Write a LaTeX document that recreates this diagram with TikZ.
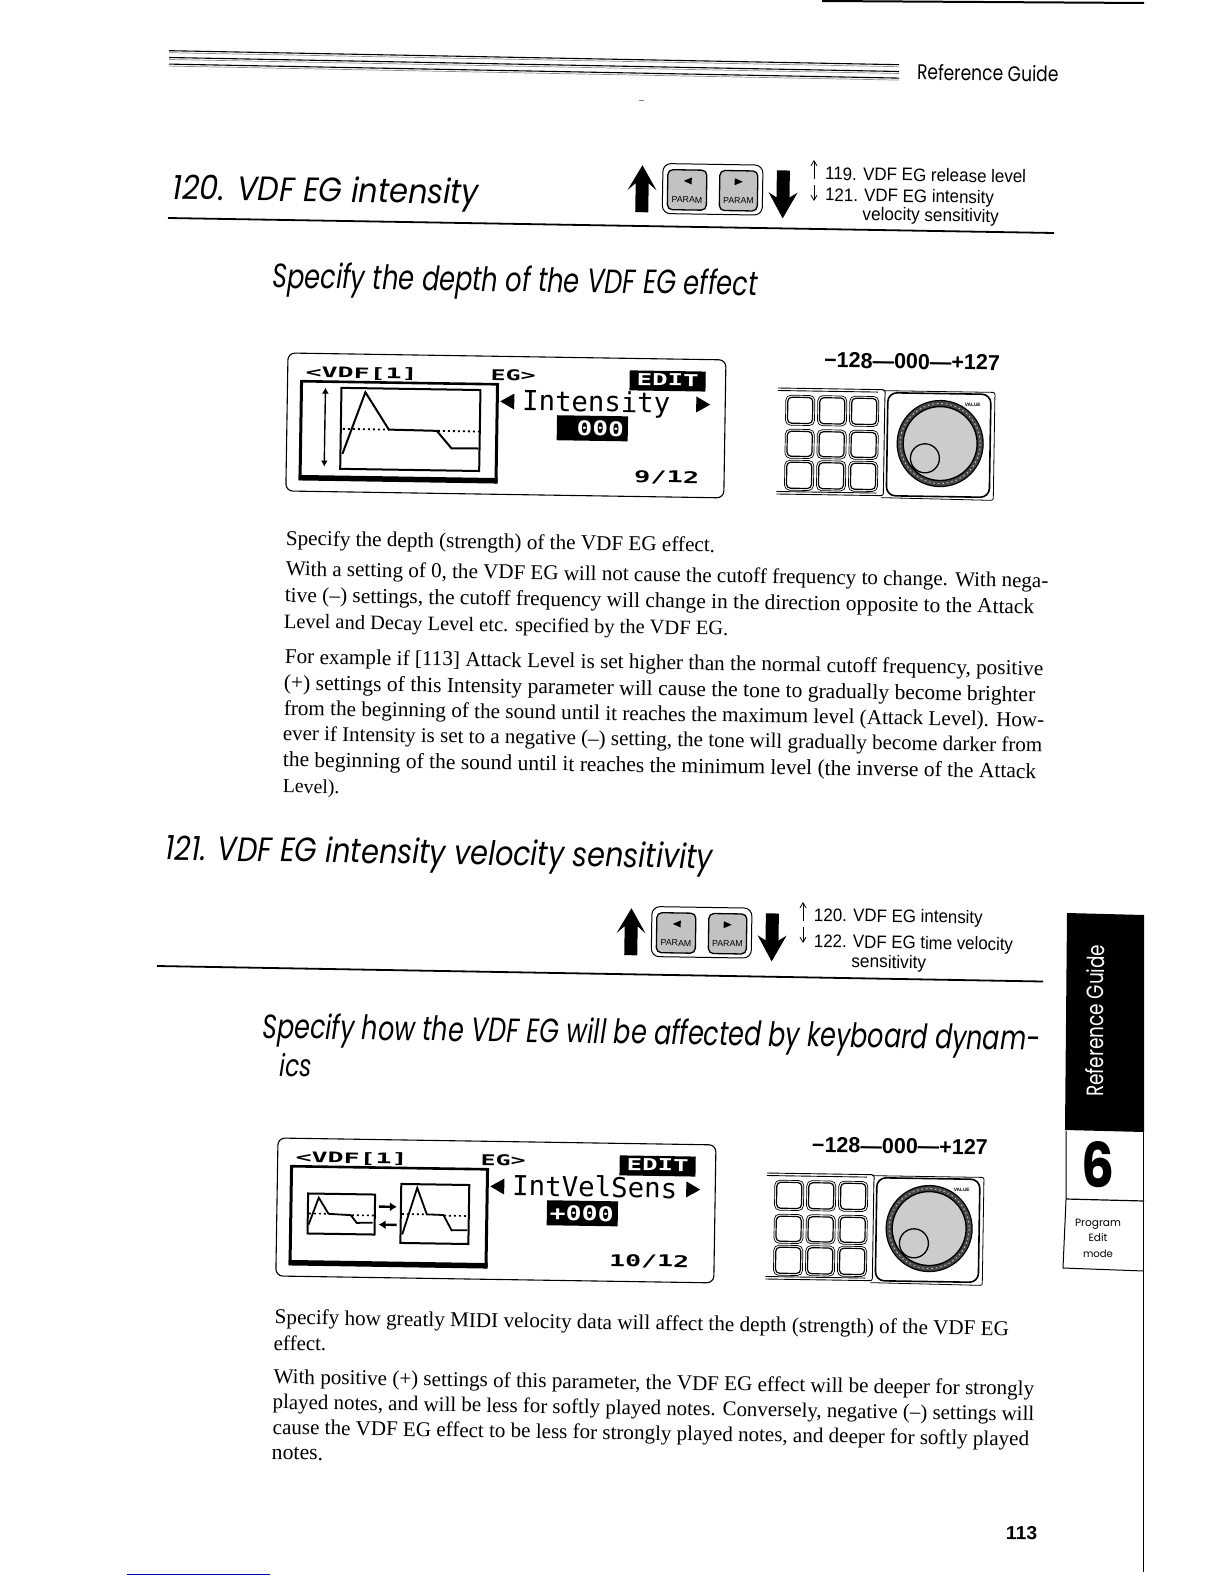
\documentclass[tikz,border=0pt]{standalone}
\usepackage{fontspec}
\usepackage{graphicx}
\usetikzlibrary{arrows.meta}
\newfontfamily\mybody{Liberation Serif}
\newfontfamily\mysans{Liberation Sans}
\newfontfamily\myfut{Poppins}
\newfontfamily\mylcd{DejaVu Sans Mono}
\newcount\nodecnt
\tikzset{
  tx/.style={anchor=base west,inner sep=0pt,outer sep=0pt,rotate=-0.9},
  ltx/.style={anchor=base west,inner sep=0pt,outer sep=0pt,transform shape},
  ctx/.style={anchor=center,inner sep=0pt,outer sep=0pt,transform shape},
  rulek/.style={line width=1.8pt,black},
  keyfill/.style={fill=black!24,draw=black,line width=1.3pt,rounded corners=5pt},
  thinarrow/.style={line width=0.8pt,-{Straight Barb[length=5pt,width=6pt]}},
}
% body line: x y width (in shown-scale px) text
\newcommand\bdl[4]{\global\advance\nodecnt by 1
  \pgfmathsetlengthmacro\wdd{1.0099*#3}
  \node[tx] (n\the\nodecnt) at ({1.0099*#1},{1.0099*#2}) {\resizebox{\wdd}{!}{\fontsize{20}{24}\mybody #4}};}
% sized line: font x y w h text (w, h shown-scale)
\newcommand\szl[6]{\global\advance\nodecnt by 1
  \pgfmathsetlengthmacro\wdd{1.0099*#4}\pgfmathsetlengthmacro\htt{1.0099*#5}
  \node[tx] (n\the\nodecnt) at ({1.0099*#2},{1.0099*#3}) {\resizebox{\wdd}{\htt}{\fontsize{20}{24}#1#6}};}
% lcd/local text: colour x y w h text
\newcommand\lcdt[6]{\global\advance\nodecnt by 1
  \node[ltx,text=#1] (n\the\nodecnt) at (#2,#3) {\resizebox{#4pt}{#5pt}{\fontsize{16}{18}\mylcd\bfseries #6}};}
\newcommand\lcdr[5]{\global\advance\nodecnt by 1
  \node[ltx] (n\the\nodecnt) at (#1,#2) {\resizebox{#3pt}{#4pt}{\fontsize{16}{18}\mylcd #5}};}
\newcommand\paramgroup[2]{%
\begin{scope}[shift={(#1,#2)},rotate=-0.9]
  \fill (14.5,2) -- (29,27) -- (21,20) -- (21,49) -- (8,49) -- (8,20) -- (0,27) -- cycle;
  \fill (155.5,53) -- (170,27) -- (162,32) -- (162,5) -- (149,5) -- (149,32) -- (141,27) -- cycle;
  \draw[line width=1pt,rounded corners=8pt] (35,0) rectangle (135,50);
  \draw[keyfill] (40,6) rectangle (79,46);
  \draw[keyfill] (92,6) rectangle (130,46);
  \fill (56,17) -- (64,13.5) -- (64,20.5) -- cycle;
  \fill (115,17) -- (107,13.5) -- (107,20.5) -- cycle;
  \global\advance\nodecnt by 1
  \node[ctx] (n\the\nodecnt) at (59.5,36) {\fontsize{8.8}{9}\mysans PARAM};
  \global\advance\nodecnt by 1
  \node[ctx] (n\the\nodecnt) at (111,36) {\fontsize{8.8}{9}\mysans PARAM};
\end{scope}}
\newcommand\lcdframe{%
  \draw[line width=1.1pt,rounded corners=7pt] (0,0) rectangle (438,138);
  \draw[line width=2.6pt] (14,28) -- (210,28);
  \draw[line width=3pt] (14,26.8) -- (14,127);
  \draw[line width=3pt] (210,26.8) -- (210,127);
  \draw[line width=5.5pt] (12.5,124.5) -- (211.5,124.5);
  \lcdt{black}{18}{24}{112}{11}{<VDF[1]}
  \lcdt{black}{203}{24}{45}{11}{EG>}
  \fill (342,12) rectangle (418,32);
  \lcdt{white}{349}{27}{62}{12}{EDIT}
  \fill (213,45) -- (227,37) -- (227,53) -- cycle;
  \fill (423,45) -- (409,37) -- (409,53) -- cycle;
  \fill (270,58) rectangle (341,83);
}
\newcommand\knobpanel[2]{%
\begin{scope}[shift={(#1,#2)},rotate=-0.9]
  \draw[line width=0.9pt] (0,0) -- (105,0) to[out=0,in=90] (107,8) -- (107,100) to[out=-90,in=0] (105,106) -- (0,106);
  \draw[line width=0.9pt] (0,2.5) -- (100,2.5);
  \draw[line width=0.9pt] (0,103.5) -- (100,103.5);
  \draw[line width=0.8pt,rounded corners=2pt] (105,1) -- (217,1) -- (217,109) -- (105,108);
  \draw[line width=1.6pt,rounded corners=9pt] (110,3) rectangle (213,106);
  \foreach \cx/\cw in {8/29,40/29,72/29}{
    \foreach \cy/\ch in {7/30,41/29,72/30}{
      \draw[line width=0.7pt,rounded corners=5pt] (\cx,\cy) rectangle ++(\cw,\ch);
      \draw[line width=1.2pt,rounded corners=4pt] ({\cx+2},{\cy+2}) rectangle ++({\cw-4},{\ch-4});
    }}
  \fill[black!72] (163,53) circle[radius=43];
  \draw[black,line width=1.2pt] (163,53) circle[radius=43];
  \draw[black!22,line width=0.9pt,dash pattern=on 1.5pt off 3pt] (163,53) circle[radius=40];
  \draw[fill=black!20,line width=1.4pt] (163,53) circle[radius=37];
  \draw[line width=1.3pt] (148,68) circle[radius=14.5];
  \global\advance\nodecnt by 1
  \node[ctx] (n\the\nodecnt) at (195,14) {\fontsize{4.8}{5}\mysans\bfseries VALUE};
\end{scope}}
\begin{document}
\begin{tikzpicture}[x=1pt,y=-1pt]
\useasboundingbox (0,0) rectangle (1224,1584);
\fill[white] (0,0) rectangle (1224,1584);
% top-right page edge and stray marks
\draw[line width=2pt] (822,1) -- (1144,3);
\draw[line width=0.8pt,black!50] (639,100) -- (644,100);
% header rules
\foreach \dy in {0,6.8,13.4}{
  \draw[line width=1.1pt] (169,{50.7+\dy}) -- (899,{64.7+\dy});
  \draw[line width=0.7pt,black!45] (169,{52.7+\dy}) -- (899,{66.7+\dy});
}
\szl{\myfut}{908}{79}{140}{16}{Reference Guide}
% section 120
\szl{\myfut\itshape}{171}{197.5}{303}{25.5}{120. VDF EG intensity}
\draw[rulek] (168,218) -- (1054,233);
\paramgroup{628}{163}
\draw[thinarrow] (814,179) -- (814,160);
\draw[thinarrow] (814,185) -- (814,201);
\szl{\mysans}{817}{178}{199}{13}{119. VDF EG release level}
\szl{\mysans}{817}{199}{167}{13}{121. VDF EG intensity}
\szl{\mysans}{854}{218}{135}{13}{velocity sensitivity}
\szl{\myfut\itshape}{270}{285}{480}{25.5}{Specify the depth of the VDF EG effect}
% LCD 1
\begin{scope}[shift={(288,353)},rotate=-0.9]
  \lcdframe
  \draw[line width=2pt] (54,34) rectangle (193,115);
  \draw[line width=1.4pt,{Latex[length=6pt,width=7pt]}-{Latex[length=6pt,width=7pt]}] (38,34) -- (38,113);
  \draw[line width=2pt] (56,100) -- (78,38) -- (102,75) -- (150,75.5) -- (165,92.8) -- (192,92.5);
  \draw[line width=1.8pt,dash pattern=on 2pt off 3pt] (56,75) -- (102,75);
  \draw[line width=1.8pt,dash pattern=on 2pt off 3pt] (151,75.5) -- (192,75.5);
  \lcdr{235}{54}{148}{21}{Intensity}
  \lcdt{white}{290}{78}{47}{15}{000}
  \lcdt{black}{348}{124}{65}{12}{9/12}
\end{scope}
\szl{\mysans\bfseries}{816}{364}{174}{15}{−128—000—+127}
\knobpanel{778}{388}
% body 120
\bdl{283}{540}{425}{Specify the depth (strength) of the VDF EG effect.}
\bdl{283}{570}{755}{With a setting of 0, the VDF EG will not cause the cutoff frequency to change. With nega-}
\bdl{282}{596}{742}{tive (–) settings, the cutoff frequency will change in the direction opposite to the Attack}
\bdl{281}{622}{440}{Level and Decay Level etc. specified by the VDF EG.}
\bdl{282}{657}{751}{For example if [113] Attack Level is set higher than the normal cutoff frequency, positive}
\bdl{281}{683}{744}{(+) settings of this Intensity parameter will cause the tone to gradually become brighter}
\bdl{281}{708}{753}{from the beginning of the sound until it reaches the maximum level (Attack Level). How-}
\bdl{280}{733}{752}{ever if Intensity is set to a negative (–) setting, the tone will gradually become darker from}
\bdl{280}{759}{746}{the beginning of the sound until it reaches the minimum level (the inverse of the Attack}
\bdl{280}{785}{56}{Level).}
% section 121
\szl{\myfut\itshape}{164}{851.5}{542}{25.5}{121. VDF EG intensity velocity sensitivity}
\paramgroup{617}{906}
\draw[rulek] (157,966) -- (1043,981.5);
\draw[thinarrow] (803,921) -- (803,902);
\draw[thinarrow] (803,927) -- (803,943);
\szl{\mysans}{806}{912}{167}{13}{120. VDF EG intensity}
\szl{\mysans}{806}{938}{197}{13}{122. VDF EG time velocity}
\szl{\mysans}{843}{958}{74}{13}{sensitivity}
\szl{\myfut\itshape}{260}{1028}{770}{25.5}{Specify how the VDF EG will be affected by keyboard dynam-}
\szl{\myfut\itshape}{277}{1065.5}{32}{23}{ics}
% LCD 2
\begin{scope}[shift={(278,1138)},rotate=-0.9]
  \lcdframe
  \draw[line width=2pt] (31,55) rectangle (98,95);
  \draw[line width=2pt] (124,44) rectangle (192,103);
  \draw[line width=1.8pt] (32,86) -- (41.7,59) -- (51.7,75) -- (74,76) -- (80,83.6) -- (96,83.3);
  \draw[line width=1.8pt] (125.7,94.5) -- (140,47.6) -- (150,74) -- (166.7,74.4) -- (175,89.6) -- (190.7,89.3);
  \draw[line width=1.6pt,dash pattern=on 2pt off 3pt] (32,75) -- (52,75);
  \draw[line width=1.6pt,dash pattern=on 2pt off 3pt] (75,76) -- (97,76);
  \draw[line width=1.6pt,dash pattern=on 2pt off 3pt] (125,74) -- (150,74);
  \draw[line width=1.6pt,dash pattern=on 2pt off 3pt] (167,75) -- (191,75);
  \draw[line width=2.4pt,-{Latex[length=7pt,width=9pt]}] (102,67) -- (120,67);
  \draw[line width=2.4pt,-{Latex[length=7pt,width=9pt]}] (120,85) -- (102,85);
  \lcdr{235}{54}{165}{21}{IntVelSens}
  \lcdt{white}{273}{78}{64}{15}{+000}
  \lcdt{black}{333}{123}{80}{12}{10/12}
\end{scope}
\szl{\mysans\bfseries}{804}{1141}{174}{15}{−128—000—+127}
\knobpanel{767}{1173}
% body 121
\bdl{272}{1311}{727}{Specify how greatly MIDI velocity data will affect the depth (strength) of the VDF EG}
\bdl{271}{1337}{52}{effect.}
\bdl{271}{1370}{753}{With positive (+) settings of this parameter, the VDF EG effect will be deeper for strongly}
\bdl{270}{1395}{754}{played notes, and will be less for softly played notes. Conversely, negative (–) settings will}
\bdl{270}{1420}{749}{cause the VDF EG effect to be less for strongly played notes, and deeper for softly played}
\bdl{269}{1445}{51}{notes.}
% side tab
\fill (1067,913) -- (1144,915) -- (1144,1132) -- (1065,1130) -- cycle;
\node[anchor=base west,inner sep=0pt,rotate=89.5,text=white] (tabtext) at (1103,1097) {\resizebox{152pt}{18pt}{\fontsize{20}{24}\myfut Reference Guide}};
\draw[line width=1pt] (1066,1131) -- (1066,1200) -- (1063,1268) -- (1144,1271);
\draw[line width=1.2pt] (1066,1199) -- (1144,1201);
\draw[line width=1pt] (1143,1132) -- (1143,1572);
\node[anchor=base,inner sep=0pt] (tabsix) at (1098,1187) {\resizebox{33pt}{46pt}{\fontsize{40}{44}\myfut\bfseries 6}};
\node[anchor=base,inner sep=0pt] (tabp) at (1098,1226) {\resizebox{46pt}{!}{\fontsize{13}{15}\myfut Program}};
\node[anchor=base,inner sep=0pt] (tabe) at (1098,1241) {\resizebox{19pt}{!}{\fontsize{13}{15}\myfut Edit}};
\node[anchor=base,inner sep=0pt] (tabm) at (1098,1257) {\resizebox{30pt}{!}{\fontsize{13}{15}\myfut mode}};
% page number and bottom mark
\szl{\mysans\bfseries}{996}{1524}{31}{13}{113}
\draw[line width=0.8pt,blue!70!black] (127,1574) -- (270,1574);
\end{tikzpicture}
\end{document}
